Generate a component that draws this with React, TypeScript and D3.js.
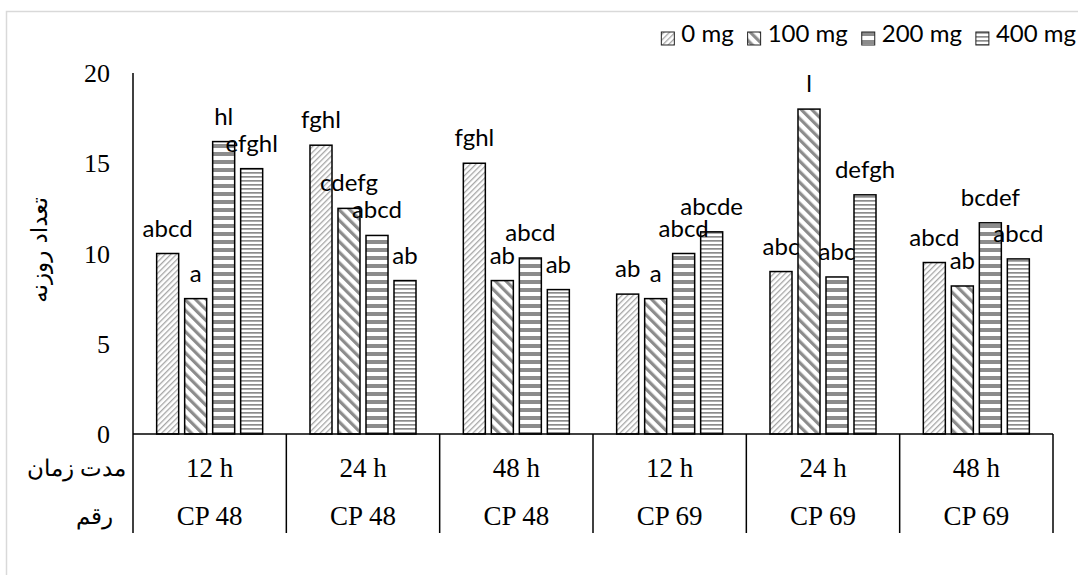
import React, { useEffect, useRef } from "react";
import * as d3 from "d3";

const durations = ["12 h", "24 h", "48 h", "12 h", "24 h", "48 h"];
const cultivars = ["CP 48", "CP 48", "CP 48", "CP 69", "CP 69", "CP 69"];
const seriesNames = ["0 mg", "100 mg", "200 mg", "400 mg"];
const mg0 = [10, 16, 15, 7.75, 9, 9.5];
const mg100 = [7.5, 12.5, 8.5, 7.5, 18, 8.2];
const mg200 = [16.2, 11, 9.75, 10, 8.7, 11.7];
const mg400 = [14.7, 8.5, 8, 11.2, 13.25, 9.7];
const lab0 = ["abcd", "fghl", "fghl", "ab", "abc", "abcd"];
const lab100 = ["a", "cdefg", "ab", "a", "l", "ab"];
const lab200 = ["hl", "abcd", "abcd", "abcd", "abc", "bcdef"];
const lab400 = ["efghl", "ab", "ab", "abcde", "defgh", "abcd"];
const yTicks = [0, 5, 10, 15, 20];
const yTitle = "تعداد روزنه";
const rowLabel1 = "مدت زمان";
const rowLabel2 = "رقم";

const W = 1078;
const H = 575;

export default function App() {
  const ref = useRef<SVGSVGElement>(null);

  useEffect(() => {
    const svg = d3.select(ref.current);
    svg.selectAll("*").remove();

    const values = [mg0, mg100, mg200, mg400];
    const labels = [lab0, lab100, lab200, lab400];
    const left = 133, right = 1053, top = 73, base = 434, tableBottom = 533;

    const x0 = d3.scaleBand<number>().domain(d3.range(durations.length)).range([left, right]).padding(0);
    const x1 = d3.scaleBand<number>().domain(d3.range(seriesNames.length)).range([0, x0.bandwidth()])
      .paddingInner(0.214).paddingOuter(0.845);
    const y = d3.scaleLinear().domain([0, 20]).range([base, top]);

    const defs = svg.append("defs");
    const gray = "#8c8c8c";
    const p0 = defs.append("pattern").attr("id", "p0").attr("patternUnits", "userSpaceOnUse")
      .attr("width", 4).attr("height", 4).attr("patternTransform", "rotate(45)");
    p0.append("rect").attr("width", 4).attr("height", 4).attr("fill", "#fff");
    p0.append("rect").attr("width", 1.3).attr("height", 4).attr("fill", "#a6a6a6");
    const p1 = defs.append("pattern").attr("id", "p1").attr("patternUnits", "userSpaceOnUse")
      .attr("width", 7.5).attr("height", 8).attr("patternTransform", "rotate(-45)");
    p1.append("rect").attr("width", 7.5).attr("height", 8).attr("fill", "#fff");
    p1.append("rect").attr("width", 3.2).attr("height", 8).attr("fill", gray);
    const p2 = defs.append("pattern").attr("id", "p2").attr("patternUnits", "userSpaceOnUse")
      .attr("width", 8).attr("height", 8);
    p2.append("rect").attr("width", 8).attr("height", 8).attr("fill", "#fff");
    p2.append("rect").attr("width", 8).attr("height", 4).attr("fill", gray);
    const p3 = defs.append("pattern").attr("id", "p3").attr("patternUnits", "userSpaceOnUse")
      .attr("width", 4).attr("height", 4);
    p3.append("rect").attr("width", 4).attr("height", 4).attr("fill", "#fff");
    p3.append("rect").attr("width", 4).attr("height", 1.7).attr("fill", gray);

    // outer border
    svg.append("rect").attr("x", 6.5).attr("y", 11.5).attr("width", 1200).attr("height", 700)
      .attr("fill", "#fff").attr("stroke", "#d9d9d9").attr("stroke-width", 1.5);

    // bars
    values.forEach((vals, s) => {
      const g = svg.append("g");
      g.selectAll("rect").data(vals).join("rect")
        .attr("x", (_d, i) => (x0(i) as number) + (x1(s) as number))
        .attr("y", (d) => y(d))
        .attr("width", x1.bandwidth())
        .attr("height", (d) => base - y(d))
        .attr("fill", `url(#p${s})`)
        .attr("stroke", "#000").attr("stroke-width", 1.5);
    });

    // labels
    values.forEach((vals, s) => {
      svg.append("g").selectAll("text").data(vals).join("text")
        .attr("x", (_d, i) => (x0(i) as number) + (x1(s) as number) + x1.bandwidth() / 2)
        .attr("y", (d) => y(d) - 17)
        .attr("text-anchor", "middle")
        .attr("font-family", "Lato, 'Open Sans', sans-serif")
        .attr("font-size", 24)
        .attr("fill", "#000")
        .text((_d, i) => labels[s][i]);
    });

    // axes
    svg.append("line").attr("x1", left).attr("x2", left).attr("y1", top).attr("y2", tableBottom)
      .attr("stroke", "#000").attr("stroke-width", 1.5);
    svg.append("line").attr("x1", left).attr("x2", right).attr("y1", base).attr("y2", base)
      .attr("stroke", "#000").attr("stroke-width", 1.5);
    svg.append("g").selectAll("line").data(d3.range(1, durations.length + 1)).join("line")
      .attr("x1", (i) => left + i * x0.step()).attr("x2", (i) => left + i * x0.step())
      .attr("y1", base).attr("y2", tableBottom)
      .attr("stroke", "#000").attr("stroke-width", 1.5);

    const serif = "'Liberation Serif', 'Times New Roman', 'DejaVu Serif', serif";
    svg.append("g").selectAll("text").data(yTicks).join("text")
      .attr("x", 110).attr("y", (d) => y(d)).attr("dy", "0.35em")
      .attr("text-anchor", "end")
      .attr("font-family", serif)
      .attr("font-size", 26).attr("fill", "#000")
      .text((d) => String(d));

    svg.append("g").selectAll("text").data(durations).join("text")
      .attr("x", (_d, i) => (x0(i) as number) + x0.bandwidth() / 2).attr("y", 468).attr("dy", "0.35em")
      .attr("text-anchor", "middle").attr("font-family", serif).attr("font-size", 27)
      .text((d) => d);
    svg.append("g").selectAll("text").data(cultivars).join("text")
      .attr("x", (_d, i) => (x0(i) as number) + x0.bandwidth() / 2).attr("y", 516).attr("dy", "0.35em")
      .attr("text-anchor", "middle").attr("font-family", serif).attr("font-size", 27)
      .text((d) => d);

    svg.append("text").attr("x", 126).attr("y", 468).attr("dy", "0.35em").attr("text-anchor", "end")
      .attr("font-family", serif).attr("font-size", 23).text(rowLabel1);
    svg.append("text").attr("x", 113).attr("y", 516).attr("dy", "0.35em").attr("text-anchor", "end")
      .attr("font-family", serif).attr("font-size", 23).text(rowLabel2);

    svg.append("text").attr("transform", "translate(39,250) rotate(-90)")
      .attr("text-anchor", "middle").attr("dy", "0.35em")
      .attr("font-family", "'DejaVu Sans', sans-serif").attr("font-size", 23)
      .text(yTitle);

    // legend
    const lg = svg.append("g");
    const items = seriesNames.map((n, i) => {
      const g = lg.append("g");
      g.append("rect").attr("x", 0).attr("y", 32).attr("width", 13).attr("height", 13)
        .attr("fill", `url(#p${i})`).attr("stroke", "#222").attr("stroke-width", 1);
      const t = g.append("text").attr("x", 20).attr("y", 42)
        .attr("font-family", "Lato, 'Open Sans', sans-serif").attr("font-size", 24).text(n);
      const w = 20 + (t.node() as SVGTextElement).getComputedTextLength();
      return { g, w };
    });
    const gap = 14;
    const total = items.reduce((a, b) => a + b.w, 0) + gap * (items.length - 1);
    let cx = 1076 - total;
    items.forEach((it) => {
      it.g.attr("transform", `translate(${cx},0)`);
      cx += it.w + gap;
    });
  }, []);

  return (
    <svg ref={ref} width={W} height={H} style={{ position: "absolute", left: 0, top: 0 }} />
  );
}
